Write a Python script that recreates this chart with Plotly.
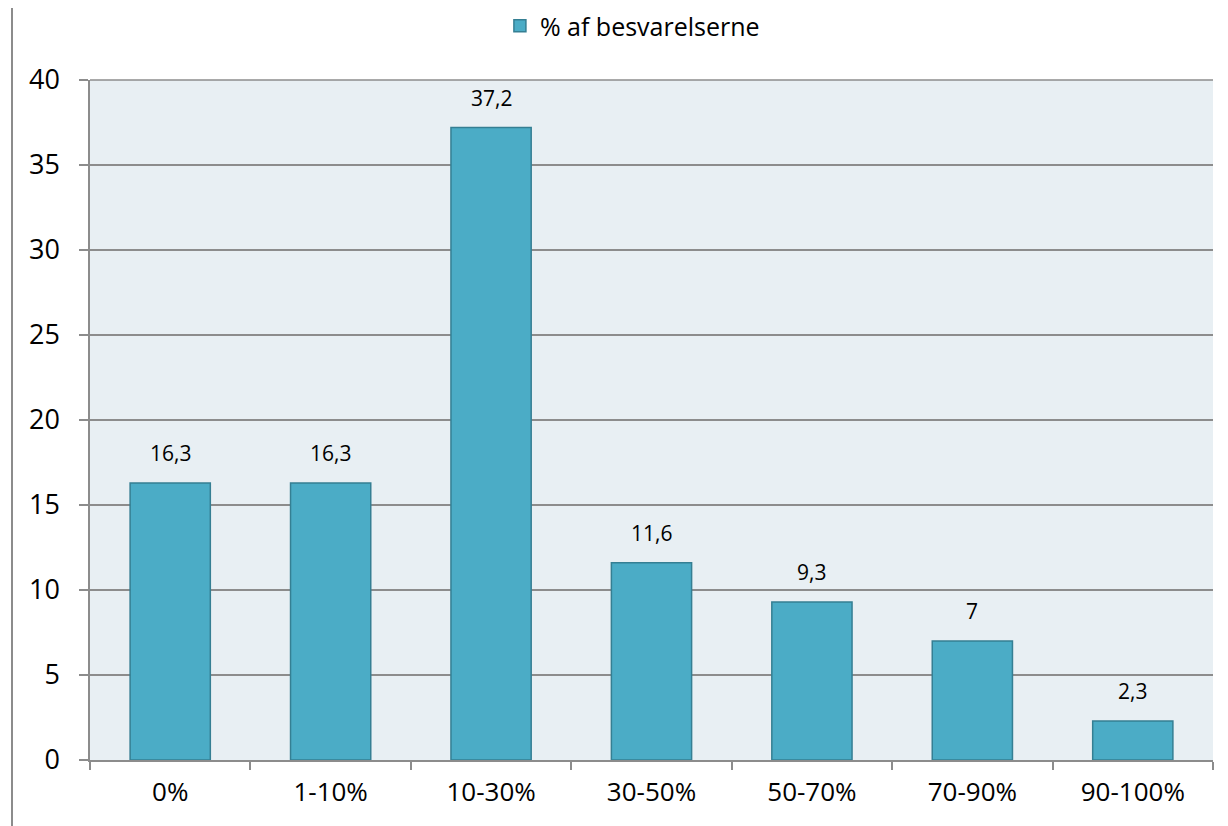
import plotly.graph_objects as go

categories = ["0%", "1-10%", "10-30%", "30-50%", "50-70%", "70-90%", "90-100%"]
values = [16.3, 16.3, 37.2, 11.6, 9.3, 7, 2.3]
series_name = "% af besvarelserne"
y_ticks = [0, 5, 10, 15, 20, 25, 30, 35, 40]

labels = [("%g" % v).replace(".", ",") for v in values]

FONT = "Open Sans"
GRID = "#8c8c8c"

fig = go.Figure()
fig.add_trace(go.Bar(
    x=categories, y=values, name=series_name,
    marker=dict(color="#4BACC6", line=dict(color="#357F93", width=1.5)),
    showlegend=True,
))

for c, v, t in zip(categories, values, labels):
    fig.add_annotation(x=c, y=v, text=t, showarrow=False, yanchor="bottom",
                       yshift=14, font=dict(size=21, color="#000000", family=FONT))

fig.update_layout(
    width=1220, height=818,
    margin=dict(l=82, r=15, t=72, b=66),
    paper_bgcolor="white", plot_bgcolor="#E8EFF3",
    bargap=0.5,
    font=dict(family=FONT, color="#000000"),
    showlegend=True,
    legend=dict(orientation="h", x=0.483, xanchor="center", xref="paper",
                yref="container", y=1 - 18/818, yanchor="middle",
                font=dict(size=25, family=FONT)),
    xaxis=dict(type="category", tickson="boundaries", ticks="outside", ticklen=8,
               tickcolor=GRID, tickwidth=1.5, showline=True, linecolor=GRID, linewidth=1.5,
               tickfont=dict(size=26), showgrid=False, ticklabelstandoff=8),
    yaxis=dict(range=[0, 40], tickvals=y_ticks, ticks="outside", ticklen=9,
               tickcolor=GRID, tickwidth=1.5, showline=True, linecolor=GRID, linewidth=1.5,
               showgrid=True, gridcolor=GRID, gridwidth=1.5, zeroline=False,
               tickfont=dict(size=27), ticklabelstandoff=14),
)

fig.add_shape(type="line", xref="paper", yref="paper",
              x0=-78/1123, x1=-78/1123, y0=-66/680, y1=1+72/680,
              line=dict(color="#8c8c8c", width=2))
fig.add_shape(type="line", xref="paper", yref="paper",
              x0=0, x1=1, y0=1, y1=1, line=dict(color=GRID, width=1.5))

fig.write_html("out.html")
